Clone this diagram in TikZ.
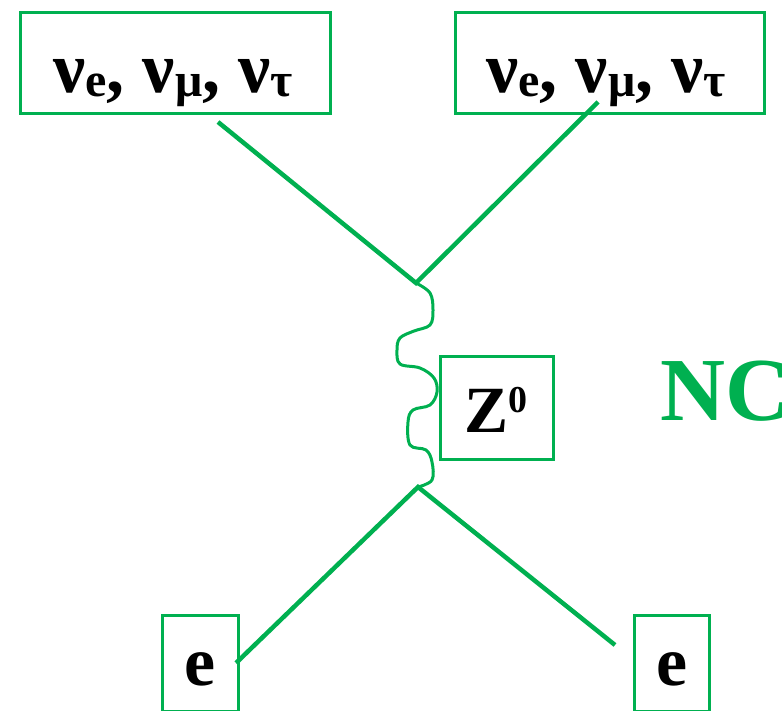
\documentclass[tikz,border=0pt]{standalone}
\usepackage{fontspec}
\setmainfont{Liberation Serif}
\usepackage{tikz}
\definecolor{ncgreen}{RGB}{0,176,80}
\newcommand{\nusub}[1]{\textnu\raisebox{-4pt}{\fontsize{48}{48}\selectfont #1}}
\newcommand{\textnu}{ν}

\begin{document}
\begin{tikzpicture}[x=1pt,y=-1pt,
		box/.style={draw=ncgreen,line width=3pt,inner sep=0pt},
		prop/.style={draw=ncgreen,line width=4.5pt},
		boson/.style={draw=ncgreen,line width=3pt}]
		\clip (0,0) rectangle (782,711);
		% neutrino boxes
		\node[box,minimum width=310pt,minimum height=101pt] (nuL) at (175,63.5) {};
		\node[font=\fontsize{72}{80}\selectfont\bfseries,anchor=base] (nuLt) at (173,93)
			{\nusub{e}, \nusub{μ}, \nusub{τ}};
		\node[box,minimum width=309pt,minimum height=101pt] (nuR) at (609.5,63.5) {};
		\node[font=\fontsize{72}{80}\selectfont\bfseries,anchor=base] (nuRt) at (606,93)
			{\nusub{e}, \nusub{μ}, \nusub{τ}};
		% exchanged boson
		\node[box,minimum width=113pt,minimum height=102pt] (zbox) at (496.5,408) {};
		\node[font=\fontsize{66}{70}\selectfont\bfseries,anchor=base] (zt) at (496,432)
			{Z\raisebox{20pt}{\fontsize{38}{38}\selectfont 0}};
		% electron boxes
		\node[box,minimum width=76pt,minimum height=96pt] (eL) at (200,663) {};
		\node[font=\fontsize{70}{70}\selectfont\bfseries,anchor=base] (eLt) at (200,685) {e};
		\node[box,minimum width=75pt,minimum height=96pt] (eR) at (671.5,663) {};
		\node[font=\fontsize{70}{70}\selectfont\bfseries,anchor=base] (eRt) at (672,685) {e};
		% label
		\node[font=\fontsize{90}{90}\selectfont\bfseries,text=ncgreen,anchor=base west,inner sep=0pt]
			(nc) at (660,420) {NC};
		% vertices and line ends
		\coordinate (vtop) at (416,283);
		\coordinate (vbot) at (418,487);
		\coordinate (inL) at (218,122);
		\coordinate (inR) at (598,102);
		\coordinate (outL) at (236,663);
		\coordinate (outR) at (615,645);
		\draw[prop] (inL) -- (vtop) -- (inR);
		\draw[prop] (outL) -- (vbot) -- (outR);
		% wavy Z line
		\draw[boson] plot[smooth,tension=0.6] coordinates {(vtop) (430,293) (433,310) (430,325)
			(414,331) (400,338) (397,350) (400,364) (420,368) (434,378) (437,392) (430,405)
			(413,410) (408,422) (410,445) (426,450) (432,462) (432,480) (vbot)};
	\end{tikzpicture}
\end{document}
